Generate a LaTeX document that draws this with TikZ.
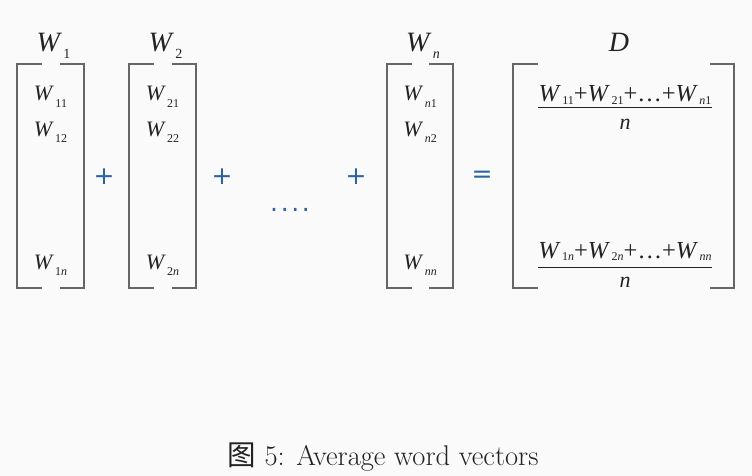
\documentclass[tikz,border=0pt]{standalone}
\usepackage{fontspec}
\newfontfamily\vecfont{Liberation Serif}
\newfontfamily\opfont{DejaVu Sans}
\newfontfamily\cjk{Noto Sans CJK SC}
\usetikzlibrary{positioning}
\definecolor{opblue}{HTML}{2B64A0}
\definecolor{inkgray}{HTML}{222222}
\newlength\subdrop
\setlength\subdrop{6.5pt}
\newcommand\wsub[2][12]{\textit{W}\kern1.5pt\raisebox{-\subdrop}{\fontsize{#1}{#1}\selectfont #2}}

\begin{document}
\begin{tikzpicture}[x=1pt, y=-1pt,
      vecname/.style={font=\vecfont\fontsize{28}{28}\selectfont, text=inkgray, anchor=base, inner sep=0pt},
      entry/.style={font=\vecfont\fontsize{22}{22}\selectfont, text=inkgray, anchor=base, inner sep=0pt},
      fracnum/.style={font=\vecfont\fontsize{24.5}{25}\selectfont\setlength\subdrop{2.5pt}, text=inkgray, anchor=base, inner sep=0pt},
      op/.style={font=\opfont\fontsize{25}{25}\selectfont, text=opblue, inner sep=0pt},
      bracket/.style={draw=black!60, line width=1.5pt},
      caption/.style={font=\fontsize{28.5}{32}\selectfont, text=inkgray, anchor=base},
    ]
    \useasboundingbox[fill=black!2] (0,0) rectangle (752,476);

    % Word vectors W_1, W_2, ..., W_n
    \foreach \name/\l/\r/\i in {1/17/84/1, 2/129/196/2, n/387/453/\textit{n}} {
      \draw[bracket] (\l+25,64) -- (\l,64) -- (\l,288) -- (\l+25,288);
      \draw[bracket] (\r-24,64) -- (\r,64) -- (\r,288) -- (\r-24,288);
      \node[vecname] (w\name) at ({(\l+\r)/2+3}, 52) {\wsub[14]{\i}};
      \node[entry] (w\name-1) at ({(\l+\r)/2}, 101) {\wsub{\i 1}};
      \node[entry] (w\name-2) at ({(\l+\r)/2}, 136) {\wsub{\i 2}};
      \node[entry] (w\name-n) at ({(\l+\r)/2}, 269) {\wsub{\i\textit{n}}};
    }

    % Operators
    \node[op] (plus1) at (104,177) {+};
    \node[op] (plus2) at (222,177) {+};
    \node[op] (dots) at (290,210) {.\kern2.6pt.\kern2.6pt.\kern2.6pt.};
    \node[op] (plus3) at (356,177) {+};
    \node[op] (eq) at (482,177) {=};

    % Average vector D
    \draw[bracket] (538,64) -- (513,64) -- (513,288) -- (538,288);
    \draw[bracket] (710,64) -- (734,64) -- (734,288) -- (710,288);
    \node[vecname] (d) at (619,52) {\textit{D}};
    \node[fracnum] (num1) at (625,102)
      {\wsub{11}+\wsub{21}+\ldots+\wsub{\textit{n}1}};
    \draw[inkgray, line width=1pt] (num1.base west |- 0,108) coordinate (bar1l)
      -- (num1.base east |- 0,108) coordinate (bar1r);
    \node[entry] (den1) at (625,130) {\textit{n}};
    \node[fracnum] (num2) at (625,258)
      {\wsub{1\textit{n}}+\wsub{2\textit{n}}+\ldots+\wsub{\textit{nn}}};
    \draw[inkgray, line width=1pt] (num2.base west |- 0,267) coordinate (bar2l)
      -- (num2.base east |- 0,267) coordinate (bar2r);
    \node[entry] (den2) at (625,287) {\textit{n}};

    % Caption
    \node[caption] (cap) at (383,465) {{\cjk 图} 5: Average word vectors};
  \end{tikzpicture}
\end{document}
